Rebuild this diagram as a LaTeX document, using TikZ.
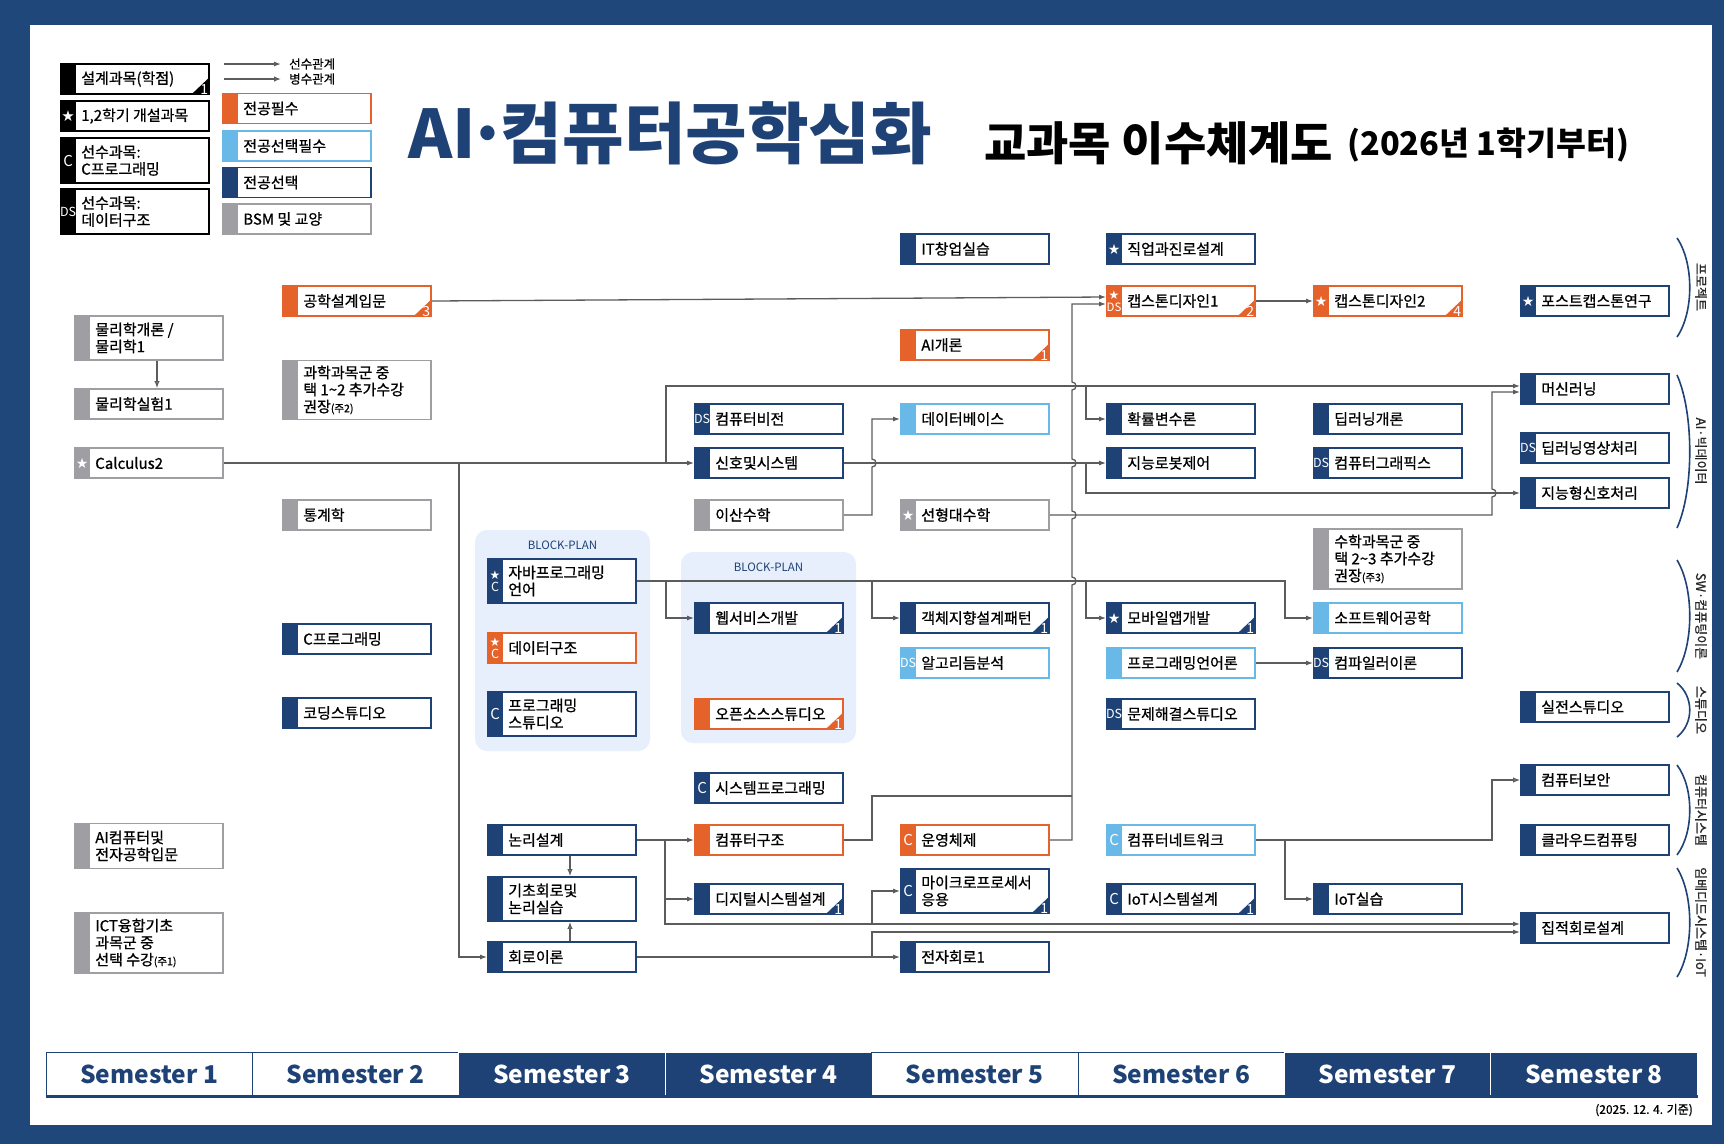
\documentclass[tikz,border=0pt]{standalone}
\usepackage{fontspec}
\setmainfont{Noto Sans CJK KR}
\newfontfamily\crsfont[FakeBold=0.8]{Noto Sans CJK KR}
\newfontfamily\djv{DejaVu Sans}
\usetikzlibrary{arrows.meta}
\definecolor{navy}{RGB}{31,66,118}
\definecolor{framec}{RGB}{31,71,122}
\definecolor{orng}{RGB}{229,99,43}
\definecolor{lblue}{RGB}{104,185,232}
\definecolor{bsm}{RGB}{158,158,163}
\definecolor{lineg}{RGB}{92,92,92}
\definecolor{blockbg}{RGB}{230,239,251}
\newcommand\str{{\djv\fontsize{14}{14}\selectfont ★}}
\newcommand\bC{{\fontsize{15}{15}\selectfont C}}
\newcommand\bDS{{\fontsize{12.5}{12.5}\selectfont DS}}
\newcommand\stC{{\djv\fontsize{12}{12}\selectfont ★}\\[-1pt]{\fontsize{12.5}{12.5}\selectfont C}}
\newcommand\stDS{{\djv\fontsize{12}{12}\selectfont ★}\\[-1pt]{\fontsize{11.5}{11.5}\selectfont DS}}
\newcommand\smallnote[1]{{\fontsize{10.5}{10.5}\selectfont #1}}
\newcommand\ctf{\crsfont\fontsize{15}{17}\selectfont}
\newcommand\semf{\bfseries\fontsize{24.5}{25}\selectfont}
\newcommand\crs[8][30]{%
  \node[cbox=#5, minimum height=#1] (#2) at (#3+74,#4) {};
  \fill[#5] (#2.north west) rectangle ([xshift=16pt]#2.south west);
  \node[ctext] (#2-t) at ([xshift=21pt]#2.west) {#6};
  \node[blabel] (#2-b) at ([xshift=8pt]#2.west) {#7};
  \if\relax\detokenize{#8}\relax\else
    \fill[#5] (#2.south east) -- ++(0,-18) -- ++(-19,18) -- cycle;
    \node[clabel] (#2-c) at ([xshift=-1.5pt,yshift=0.5pt]#2.south east) {#8};
  \fi}
\begin{document}
\begin{tikzpicture}[x=1pt,y=-1pt,
  cbox/.style={rectangle,draw=#1,fill=white,line width=1.8pt,minimum width=148pt,inner sep=0pt},
  ctext/.style={anchor=west,align=left,inner sep=0pt,font=\ctf},
  blabel/.style={text=white,align=center,inner sep=0pt,font={\fontsize{12}{13}\selectfont}},
  clabel/.style={anchor=south east,text=white,inner sep=0pt,font={\fontsize{14}{14}\selectfont}},
  conn/.style={draw=lineg,line width=1.3pt},
  arr/.style={-{Latex[length=7pt,width=5pt]}},
  oarr/.style={-{Latex[open,length=7pt,width=5.5pt]}},
  semw/.style={rectangle,draw=navy,line width=1pt,fill=white,text=navy,minimum width=206.4pt,minimum height=44pt,inner sep=0pt,font=\semf},
  semb/.style={rectangle,draw=white,line width=1pt,fill=navy,text=white,minimum width=206.4pt,minimum height=44pt,inner sep=0pt,font=\semf},
  grp/.style={rotate=-90,inner sep=0pt,font={\crsfont\fontsize{13}{13}\selectfont},text=black!85},
  brk/.style={draw=navy,line width=1.6pt}]
\useasboundingbox (0,0) rectangle (1724,1144);
% frame
\fill[framec] (0,0) rectangle (1724,1144);
\fill[white] (30,25) rectangle (1712,1125);
% titles
\node[anchor=west,text=navy,font={\bfseries\fontsize{67}{67}\selectfont},inner sep=0pt] (title) at (408,133) {AI\hspace{-8pt}·\hspace{-8pt}컴퓨터공학심화};
\node[anchor=west,font={\bfseries\fontsize{46}{46}\selectfont},inner sep=0pt] (sub1) at (984,143) {교과목 이수체계도};
\node[anchor=west,font={\bfseries\fontsize{32.5}{32.5}\selectfont},inner sep=0pt] (sub2) at (1347,145) {(2026년 1학기부터)};
% block plan backgrounds
\fill[blockbg,rounded corners=12pt] (475,530) rectangle (650,751);
\node[text=navy,font={\fontsize{11.5}{11.5}\selectfont}] (bp1) at (562.5,545) {BLOCK-PLAN};
\fill[blockbg,rounded corners=12pt] (681,552) rectangle (856,743);
\node[text=navy,font={\fontsize{11.5}{11.5}\selectfont}] (bp2) at (768.5,567) {BLOCK-PLAN};
% legend
\crs{lg1}{61}{79}{black}{설계과목(학점)}{}{1}
\crs{lg2}{61}{116}{black}{1,2학기 개설과목}{{\djv\fontsize{15}{15}\selectfont ★}}{}
\crs[45]{lg3}{61}{160.5}{black}{선수과목:\\C프로그래밍}{\bC}{}
\crs[45]{lg4}{61}{211.5}{black}{선수과목:\\데이터구조}{\bDS}{}
\crs{lg5}{223}{108.5}{orng}{전공필수}{}{}
\crs{lg6}{223}{146}{lblue}{전공선택필수}{}{}
\crs{lg7}{223}{182.5}{navy}{전공선택}{}{}
\crs{lg8}{223}{219}{bsm}{BSM 및 교양}{}{}
\coordinate (la1) at (224,64); \coordinate (la2) at (281,64);
\coordinate (lb1) at (224,79); \coordinate (lb2) at (281,79);
\draw[conn,arr] (la1) -- (la2);
\draw[conn,oarr] (lb1) -- (lb2);
\node[anchor=west,inner sep=0pt,font={\crsfont\fontsize{12.5}{12.5}\selectfont}] (lt1) at (289,64) {선수관계};
\node[anchor=west,inner sep=0pt,font={\crsfont\fontsize{12.5}{12.5}\selectfont}] (lt2) at (289,79) {병수관계};
% semester 1
\crs[44]{phys}{75}{338}{bsm}{물리학개론 /\\물리학1}{}{}
\crs{physlab}{75}{404}{bsm}{물리학실험1}{}{}
\crs{calc}{75}{463}{bsm}{Calculus2}{\str}{}
\crs[45]{aice}{75}{846}{bsm}{AI컴퓨터및\\전자공학입문}{}{}
\crs[60]{ict}{75}{943}{bsm}{ICT융합기초\\과목군 중\\선택 수강\smallnote{(주1)}}{}{}
% semester 2
\crs{gong}{283}{301}{orng}{공학설계입문}{}{3}
\crs[59]{sci}{283}{390}{bsm}{과학과목군 중\\택 1\textasciitilde2 추가수강\\권장\smallnote{(주2)}}{}{}
\crs{stat}{283}{515}{bsm}{통계학}{}{}
\crs{cprog}{283}{639}{navy}{C프로그래밍}{}{}
\crs{coding}{283}{713}{navy}{코딩스튜디오}{}{}
% semester 3
\crs[44]{java}{488}{581}{navy}{자바프로그래밍\\언어}{\stC}{}
\crs{dstr}{488}{648}{orng}{데이터구조}{\stC}{}
\crs[44]{pstudio}{488}{714}{navy}{프로그래밍\\스튜디오}{\bC}{}
\crs{logic}{488}{840}{navy}{논리설계}{}{}
\crs[44]{basic}{488}{899}{navy}{기초회로및\\논리실습}{}{}
\crs{circuit}{488}{957}{navy}{회로이론}{}{}
% semester 4
\crs{cv}{695}{419}{navy}{컴퓨터비전}{\bDS}{}
\crs{sig}{695}{463}{navy}{신호및시스템}{}{}
\crs{disc}{695}{515}{bsm}{이산수학}{}{}
\crs{web}{695}{618}{navy}{웹서비스개발}{}{1}
\crs{oss}{695}{714}{orng}{오픈소스스튜디오}{}{1}
\crs{sysprog}{695}{788}{navy}{시스템프로그래밍}{\bC}{}
\crs{arch}{695}{840}{orng}{컴퓨터구조}{}{}
\crs{digital}{695}{899}{navy}{디지털시스템설계}{}{1}
% semester 5
\crs{itstart}{901}{249}{navy}{IT창업실습}{}{}
\crs{aiintro}{901}{345}{orng}{AI개론}{}{1}
\crs{db}{901}{419}{lblue}{데이터베이스}{}{}
\crs{linalg}{901}{515}{bsm}{선형대수학}{\str}{}
\crs{oop}{901}{618}{navy}{객체지향설계패턴}{}{1}
\crs{algo}{901}{663}{lblue}{알고리듬분석}{\bDS}{}
\crs{os}{901}{840}{orng}{운영체제}{\bC}{}
\crs[44]{micro}{901}{891}{navy}{마이크로프로세서\\응용}{\bC}{1}
\crs{elec}{901}{957}{navy}{전자회로1}{}{}
% semester 6
\crs{career}{1107}{249}{navy}{직업과진로설계}{\str}{}
\crs{cap1}{1107}{301}{orng}{캡스톤디자인1}{\stDS}{2}
\crs{prob}{1107}{419}{navy}{확률변수론}{}{}
\crs{robot}{1107}{463}{navy}{지능로봇제어}{}{}
\crs{mobile}{1107}{618}{navy}{모바일앱개발}{\str}{1}
\crs{plang}{1107}{663}{lblue}{프로그래밍언어론}{}{}
\crs{pss}{1107}{714}{navy}{문제해결스튜디오}{\bDS}{}
\crs{net}{1107}{840}{lblue}{컴퓨터네트워크}{\bC}{}
\crs{iotd}{1107}{899}{navy}{IoT시스템설계}{\bC}{1}
% semester 7
\crs{cap2}{1314}{301}{orng}{캡스톤디자인2}{\str}{4}
\crs{dli}{1314}{419}{navy}{딥러닝개론}{}{}
\crs{cg}{1314}{463}{navy}{컴퓨터그래픽스}{\bDS}{}
\crs[60]{math}{1314}{559}{bsm}{수학과목군 중\\택 2\textasciitilde3 추가수강\\권장\smallnote{(주3)}}{}{}
\crs{swe}{1314}{618}{lblue}{소프트웨어공학}{}{}
\crs{comp}{1314}{663}{navy}{컴파일러이론}{\bDS}{}
\crs{iotlab}{1314}{899}{navy}{IoT실습}{}{}
% semester 8
\crs{post}{1521}{301}{navy}{포스트캡스톤연구}{\str}{}
\crs{ml}{1521}{389}{navy}{머신러닝}{}{}
\crs{dlv}{1521}{448}{navy}{딥러닝영상처리}{\bDS}{}
\crs{isp}{1521}{493}{navy}{지능형신호처리}{}{}
\crs{studio}{1521}{707}{navy}{실전스튜디오}{}{}
\crs{sec}{1521}{780}{navy}{컴퓨터보안}{}{}
\crs{cloud}{1521}{840}{navy}{클라우드컴퓨팅}{}{}
\crs{ic}{1521}{928}{navy}{집적회로설계}{}{}
% connectors
\draw[conn,oarr] ([xshift=8pt]phys.south) -- ([xshift=8pt]physlab.north);
\draw[conn,arr] (gong.east) -- ([yshift=4pt]cap1.west);
\draw[conn,arr] (cap1.east) -- (cap2.west);
\draw[conn,arr] (os.east) -- (1072,840) -- (1072,585) .. controls (1077.3,585) and (1077.3,577) .. (1072,577)
  -- (1072,519) .. controls (1077.3,519) and (1077.3,511) .. (1072,511)
  -- (1072,467) .. controls (1077.3,467) and (1077.3,459) .. (1072,459)
  -- (1072,390) .. controls (1077.3,390) and (1077.3,382) .. (1072,382) |- ([yshift=-3pt]cap1.west);
\draw[conn] (arch.east) -- (872,840) -- (872,796) -- (1072,796);
\draw[conn,arr] (calc.east) -- (sig.west);
\draw[conn,arr] (459,463) |- (circuit.west);
\draw[conn,arr] (666,463) |- ([yshift=3pt]ml.west);
\draw[conn,arr] (1086,386) |- (prob.west);
\draw[conn,arr] (sig.east) -- (robot.west);
\draw[conn,arr] (1086,463) |- (isp.west);
\draw[conn,arr] (disc.east) -- (872,515) -- (872,467) .. controls (877.3,467) and (877.3,459) .. (872,459) |- (db.west);
\draw[conn,arr] (linalg.east) -- (1492,515) -- (1492,497) .. controls (1497.3,497) and (1497.3,489) .. (1492,489) |- ([yshift=-3pt]ml.west);
\draw[conn,arr] (java.east) -- (1285,581) |- (swe.west);
\draw[conn,arr] (666,581) |- (web.west);
\draw[conn,arr] (872,581) |- (oop.west);
\draw[conn,arr] (1086,581) |- (mobile.west);
\draw[conn,arr] (plang.east) -- (comp.west);
\draw[conn,arr] (logic.east) -- (arch.west);
\draw[conn,arr] (665,840) |- (digital.west);
\draw[conn,arr] (665,899) |- ([yshift=4pt]ic.west);
\draw[conn,arr] (872,924) |- (micro.west);
\draw[conn,arr] (circuit.east) -- (elec.west);
\draw[conn,arr] (872,957) |- ([yshift=-4pt]ic.west);
\draw[conn,oarr] (net.east) -- (1492,840) |- (sec.west);
\draw[conn,arr] (1285,840) |- (iotlab.west);
\draw[conn,oarr] ([xshift=8pt]logic.south) -- ([xshift=8pt]basic.north);
\draw[conn,oarr] ([xshift=8pt]circuit.north) -- ([xshift=8pt]basic.south);
% group brackets
\draw[brk] (1677,238) .. controls (1694,263) and (1694,312) .. (1677,337);
\draw[brk] (1677,375) .. controls (1694,413) and (1694,490) .. (1677,528);
\draw[brk] (1677,560) .. controls (1694,588) and (1694,644) .. (1677,672);
\draw[brk] (1677,683) .. controls (1694,696.5) and (1694,723.5) .. (1677,737);
\draw[brk] (1677,765) .. controls (1694,787.5) and (1694,832.5) .. (1677,855);
\draw[brk] (1677,868) .. controls (1694,895) and (1694,950) .. (1677,977);
\node[grp] (g1) at (1701,287) {프로젝트};
\node[grp] (g2) at (1701,451) {AI·빅데이터};
\node[grp] (g3) at (1701,616) {SW·컴퓨팅이론};
\node[grp] (g4) at (1701,710) {스튜디오};
\node[grp] (g5) at (1701,810) {컴퓨터시스템};
\node[grp] (g6) at (1701,922) {임베디드시스템·IoT};
% semesters
\node[semw] (sem1) at (149.2,1074) {Semester 1};
\node[semw] (sem2) at (355.6,1074) {Semester 2};
\node[semb] (sem3) at (562,1074) {Semester 3};
\node[semb] (sem4) at (768.4,1074) {Semester 4};
\node[semw] (sem5) at (974.8,1074) {Semester 5};
\node[semw] (sem6) at (1181.2,1074) {Semester 6};
\node[semb] (sem7) at (1387.6,1074) {Semester 7};
\node[semb] (sem8) at (1594,1074) {Semester 8};
\draw[navy,line width=2.5pt] (sem1.south west) -- (sem8.south east);
\node[anchor=east,inner sep=0pt,font={\crsfont\fontsize{12}{12}\selectfont}] (foot) at (1693,1110) {(2025. 12. 4. 기준)};
\end{tikzpicture}
\end{document}
